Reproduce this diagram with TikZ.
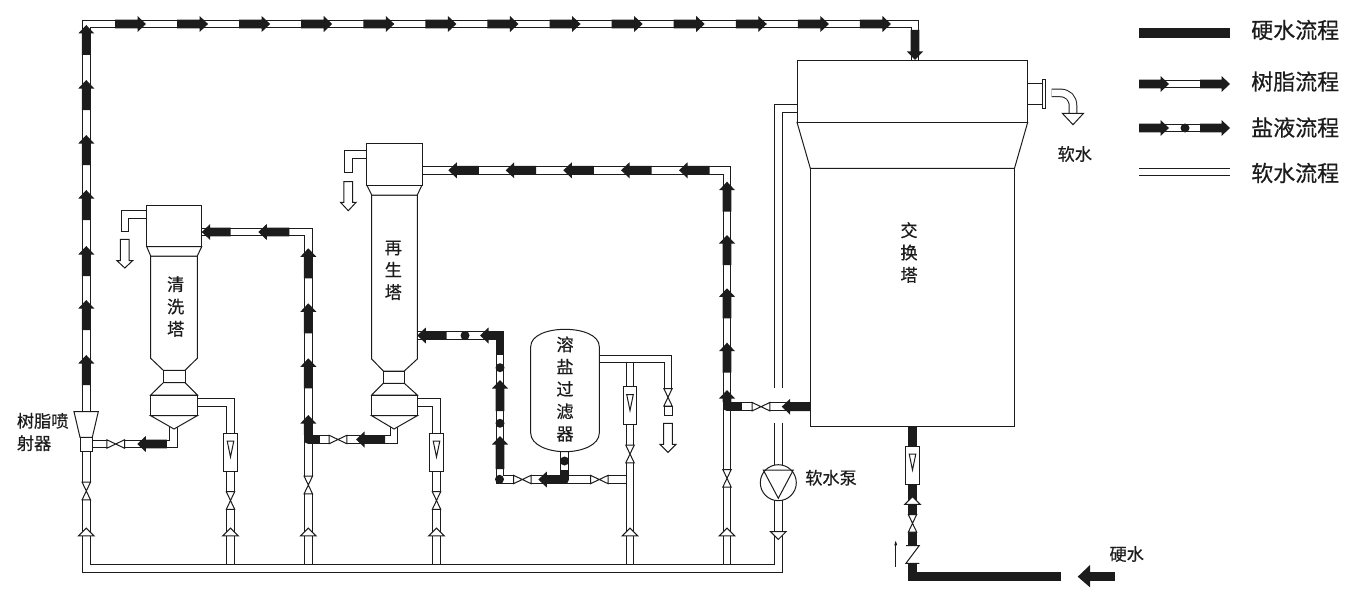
\documentclass[tikz,border=0pt]{standalone}
\usepackage{fontspec}
\usetikzlibrary{arrows.meta}
\setmainfont{Noto Sans CJK SC}[AutoFakeBold=0.5]
\definecolor{ink}{HTML}{1C1C1C}
\tikzset{
  x=1pt,y=-1pt,
  line/.style={draw=ink,line width=1pt,line join=miter},
  equip/.style={line,fill=white},
  pipe/.style={draw=ink,line width=1pt,double=white,double distance=6.6pt,line join=miter},
  hardline/.style={draw=ink,line width=8.6pt,line join=round},
  txt/.style={inner sep=0pt,font=\fontsize{17.2}{22.3}\selectfont\bfseries,text=ink,align=center},
  legendtxt/.style={inner sep=0pt,font=\fontsize{22}{24}\selectfont\bfseries,text=ink,anchor=west},
  pics/flow/.style={code={\fill[ink] (0,0)--(8.5,-8)--(8.5,-4.4)--(#1,-4.4)--(#1,4.4)--(8.5,4.4)--(8.5,8)--cycle;}},
  pics/valve/.style={code={\fill[white] (-8.8,-5) rectangle (8.8,5);
     \draw[equip] (-8.8,-4.2)--(8.8,4.2)--(8.8,-4.2)--(-8.8,4.2)--cycle;}},
  pics/hat/.style={code={\draw[equip] (-7.8,3.9)--(0,-3.9)--(7.8,3.9)--cycle;}},
  pics/rota/.style={code={\draw[equip] (-6.8,-19) rectangle (6.8,19);
     \draw[equip] (-3.3,-11)--(3.3,-11)--(0,5)--cycle;}},
  saltdot/.style={fill=ink,circle,minimum size=9pt,inner sep=0pt}
}
\newcommand{\wdown}[5]{\draw[equip] (#1-4.4,#2)--(#1+4.4,#2)--(#1+4.4,#3)--(#1+#5,#3)--(#1,#4)--(#1-#5,#3)--(#1-4.4,#3)--cycle;}
\begin{document}
\begin{tikzpicture}
\useasboundingbox (0,0) rectangle (1351,602);
% ---- connection points
\coordinate (ejTop) at (86.3,411.7);
\coordinate (ejBot) at (86.3,451);
\coordinate (ejSide) at (92.3,444);
\coordinate (tlTop) at (86.3,24);
\coordinate (trTop) at (915,24);
\coordinate (exTop) at (915,60);
\coordinate (softOut) at (797,108.3);
\coordinate (softBend) at (778.3,108.3);
\coordinate (softGapA) at (778.3,388);
\coordinate (softGapB) at (778.3,422.7);
\coordinate (softCorner) at (778.3,568.5);
\coordinate (mainLeft) at (86.3,568.5);
\coordinate (w1Out) at (197.3,402.5);
\coordinate (w1Foot) at (230.5,564.5);
\coordinate (r1Out) at (417.3,402.5);
\coordinate (r1Foot) at (436.5,564.5);
\coordinate (fOut) at (599.3,359);
\coordinate (fEnd) at (668,389);
\coordinate (fCol) at (630,359);
\coordinate (fFoot) at (630,564.5);
\coordinate (w1In) at (201.7,232);
\coordinate (wrFoot) at (308.3,564.5);
\coordinate (r1Bot) at (394,424);
\coordinate (wrJoin) at (312,439.5);
\coordinate (w1Bot) at (173.5,424);
\coordinate (r1In) at (422,170.3);
\coordinate (rrFoot) at (727,564.5);
\coordinate (exSide) at (810,406.7);
\coordinate (rrJoin) at (731,406.7);
\coordinate (r1Salt) at (417.3,335.5);
\coordinate (saltEnd) at (626,479.5);
\coordinate (saltCorner) at (500,479.5);
\coordinate (fBot) at (564.5,451.7);
\coordinate (fBotEnd) at (564.5,476);
\coordinate (exBot) at (912.5,426);
\coordinate (checkTop) at (912.5,545);
\coordinate (checkBot) at (912.5,563);
\coordinate (hardCorner) at (912.5,576.7);
\coordinate (hardEnd) at (1060.7,576.7);
\coordinate (wOutA) at (146.7,214.5);
\coordinate (wOutB) at (124.8,214.5);
\coordinate (wOutC) at (124.8,231.3);
\coordinate (rOutA) at (366.7,154.5);
\coordinate (rOutB) at (348.3,154.5);
\coordinate (rOutC) at (348.3,172);
% ---- pipes
\draw[pipe] (ejTop)--(tlTop)--(trTop)--(exTop);
\draw[pipe] (w1Out)-|(w1Foot);
\draw[pipe] (r1Out)-|(r1Foot);
\draw[pipe] (fCol)--(fFoot);
\draw[pipe] (fOut)-|(fEnd);
\draw[pipe] (r1Bot)|-(wrJoin);
\draw[pipe] (w1In)-|(wrFoot);
\draw[pipe] (w1Bot)|-(ejSide);
\draw[pipe] (exSide)--(rrJoin);
\draw[pipe] (r1In)-|(rrFoot);
\draw[pipe] (fBot)--(fBotEnd);
\draw[pipe] (r1Salt)-|(saltCorner)--(saltEnd);
\draw[pipe] (630,470)--(fFoot);
\draw[pipe] (softOut)--(softBend)--(softGapA);
\draw[pipe] (softGapB)--(softCorner)--(mainLeft)--(ejBot);
\draw[pipe] (wOutA)--(wOutB)--(wOutC);
\draw[line] (120.5,231.3)--(129.1,231.3);
\draw[pipe] (rOutA)--(rOutB)--(rOutC);
\draw[line] (344,172)--(352.6,172);
% ---- hard water lines
\draw[hardline,line cap=butt] (exBot)--(checkTop);
\draw[hardline,line cap=butt,line join=miter] (checkBot)--(hardCorner)--(hardEnd);
% ---- flow arrows: top run
\foreach \i in {0,...,12}{ \pic[rotate=180] at ({146+62.08*\i},24) {flow=31}; }
\draw[hardline,line cap=butt] (915,30.5)--(915,53);
\pic[rotate=90] at (exTop) {flow=30};
\foreach \t in {25,80,135,190,246,300,355}{ \pic[rotate=-90] at (86.3,\t) {flow=30}; }
% resin branch, wash tower
\pic at (201.7,232) {flow=29};
\pic at (258.3,232) {flow=31};
\foreach \t in {248.3,303.3,358.3}{ \pic[rotate=-90] at (308.3,\t) {flow=30}; }
\pic[rotate=-90] at (308.3,415) {flow=20};
\draw[hardline] (308.3,430)--(308.3,439.5)--(320,439.5);
\pic at (137.3,444) {flow=29.5};
\pic at (356,439.5) {flow=29};
% regeneration feed
\foreach \t in {448.3,505.7,563.3,621,679}{ \pic at (\t,170.3) {flow=30.5}; }
\foreach \t in {181.7,235,288.3,342.7}{ \pic[rotate=-90] at (727,\t) {flow=30}; }
\pic[rotate=-90] at (727,390) {flow=12};
\draw[hardline] (727,400)--(727,406.7)--(741.7,406.7);
\pic at (781.7,406.7) {flow=28.3};
% brine
\pic at (417.3,335.5) {flow=29.4};
\pic at (480,335.5) {flow=12};
\draw[hardline,line join=miter] (490,335.5)--(500,335.5)--(500,355);
\pic[rotate=-90] at (500,380) {flow=31};
\pic[rotate=-90] at (500,436) {flow=33};
\node[saltdot] (d1) at (465,335.5) {};
\node[saltdot] (d2) at (500,367.7) {};
\node[saltdot] (d3) at (500,423.3) {};
\node[saltdot] (d4) at (499.5,479.3) {};
\pic at (538.3,479.5) {flow=14};
\draw[hardline] (550,479.5)--(564.5,479.5)--(564.5,470);
\node[saltdot] (d5) at (564.5,461) {};
% ---- valves
\pic[rotate=90] at (86.3,491) {valve};
\pic[rotate=90] at (230.5,500.5) {valve};
\pic[rotate=90] at (308.3,485) {valve};
\pic[rotate=90] at (436.5,500.5) {valve};
\pic[rotate=90] at (630,454) {valve};
\pic[rotate=90] at (668,397.3) {valve};
\pic[rotate=90] at (727,478.3) {valve};
\pic[rotate=90] at (912.5,523.3) {valve};
\pic at (115.7,444) {valve};
\pic at (338,439.5) {valve};
\pic at (522.3,479.5) {valve};
\pic at (599.3,479.5) {valve};
\pic at (761,406.7) {valve};
\draw[equip] (664,406)rectangle(672.3,415.7);
% ---- hats
\foreach \x in {86.3,230.5,308.3,436.5,630,727}{ \pic at (\x,532) {hat}; }
\pic at (912.5,500.5) {hat};
\pic[rotate=180] at (778.3,535.5) {hat};
% ---- rotameters
\pic at (230.5,452) {rota};
\pic at (436.5,452) {rota};
\pic at (630,405.5) {rota};
\pic at (912.5,465) {rota};
% ---- check valve
\fill[white] (905,545) rectangle (920,563.3);
\draw[line] (906,545.5)--(919.3,545.5)--(906,563.3)--(919.3,563.3);
\draw[line,-{Latex[length=6pt,width=3pt]}] (895.7,566.7)--(895.7,539.3);
% ---- ejector
\draw[equip] (74,411.7)--(98.3,411.7)--(92.3,437.3)--(80,437.3)--cycle;
\draw[equip] (80,437.3) rectangle (92.3,451);
% ---- wash tower
\draw[equip] (150.7,256)--(197.3,256)--(197.3,358.3)--(185,370.3)--(163.3,370.3)--(150.7,358.3)--cycle;
\draw[equip] (163.3,370.3) rectangle (185,382.7);
\draw[equip] (163.3,382.7)--(185,382.7)--(197.3,395)--(150.7,395)--cycle;
\draw[equip] (150.7,395) rectangle (197.3,415.7);
\draw[equip] (150.7,415.7)--(197.3,415.7)--(174,429)--cycle;
\draw[equip] (146.7,246.7)--(201.7,246.7)--(197.3,256)--(150.7,256)--cycle;
\draw[equip] (146.7,205) rectangle (201.7,246.7);
% ---- regeneration tower
\draw[equip] (371.7,195)--(417.3,195)--(417.3,359)--(404.3,371)--(383.3,371)--(371.7,359)--cycle;
\draw[equip] (383.3,371) rectangle (404.3,383.3);
\draw[equip] (383.3,383.3)--(404.3,383.3)--(417.3,395)--(371.7,395)--cycle;
\draw[equip] (371.7,395) rectangle (417.3,415.7);
\draw[equip] (371.7,415.7)--(417.3,415.7)--(394,429)--cycle;
\draw[equip] (366.7,185)--(422,185)--(417.3,195)--(371.7,195)--cycle;
\draw[equip] (366.7,143.3) rectangle (422,185);
% ---- filter
\draw[equip] (530.7,346.7) .. controls (530.7,335) and (548,329.3) .. (565,329.3)
   .. controls (582,329.3) and (599.3,335) .. (599.3,346.7) -- (599.3,433)
   .. controls (599.3,445) and (582,451.7) .. (565,451.7)
   .. controls (548,451.7) and (530.7,445) .. (530.7,433) -- cycle;
% ---- exchange tower
\draw[equip] (810.3,168.3) rectangle (1014.5,426);
\draw[equip] (797,122.3)--(1027.7,122.3)--(1014.5,168.3)--(810.3,168.3)--cycle;
\draw[equip] (797,60.3) rectangle (1027.7,122.3);
\draw[equip] (1027.7,83.3) rectangle (1042.8,104.3);
\draw[equip] (1042.8,79.3) rectangle (1045.4,108.3);
\draw[pipe] (1051.5,92.9)--(1060,92.9) .. controls (1068,92.9) and (1073,98) .. (1073,106)--(1073,113.3);
\draw[equip] (1062.3,113.3)--(1083.5,113.3)--(1073,124.7)--cycle;
% ---- pump
\draw[equip] (778.3,482.7) circle (18);
\draw[line] (763.3,470)--(793.3,470)--(778.3,498.3)--cycle;
% ---- white outflow arrows
\wdown{124.8}{239.3}{260.7}{268}{7.8}
\wdown{348.3}{181.7}{202.3}{210.7}{7.8}
\wdown{668}{423.3}{444.3}{452.3}{8}
% ---- feed arrow
\draw[hardline,line cap=butt] (1088,576.7)--(1115,576.7);
\fill[ink] (1077.7,576.7)--(1090,565)--(1090,587.3)--cycle;
% ---- labels
\node[txt] (lw) at (175.7,306.5) {清\\洗\\塔};
\node[txt] (lr) at (393.3,270.3) {再\\生\\塔};
\node[txt] (lx) at (909,252.5) {交\\换\\塔};
\node[txt] (lf) at (565,389) {溶\\盐\\过\\滤\\器};
\node[txt,anchor=west,align=left] (lj) at (16.7,432) {树脂喷\\射器};
\node[txt,anchor=west] (lp) at (805,477.7) {软水泵};
\node[txt] (ls) at (1074.8,154) {软水};
\node[txt] (lh) at (1126.7,554) {硬水};
% ---- legend
\coordinate (k1a) at (1139,33); \coordinate (k1b) at (1230,33);
\draw[ink,line width=10pt] (k1a)--(k1b);
\coordinate (k2a) at (1145,84); \coordinate (k2b) at (1225,84);
\draw[pipe] (k2a)--(k2b);
\pic[rotate=180] at (1169,84) {flow=30};
\pic[rotate=180] at (1230,84) {flow=30};
\coordinate (k3a) at (1145,128); \coordinate (k3b) at (1225,128);
\draw[pipe] (k3a)--(k3b);
\pic[rotate=180] at (1169,128) {flow=30};
\pic[rotate=180] at (1230,128) {flow=30};
\node[saltdot] (k3d) at (1185,128) {};
\coordinate (k4a) at (1139,171.8); \coordinate (k4b) at (1230,171.8);
\draw[pipe] (k4a)--(k4b);
\node[legendtxt] (t1) at (1251,30) {硬水流程};
\node[legendtxt] (t2) at (1251,81.5) {树脂流程};
\node[legendtxt] (t3) at (1251,127.5) {盐液流程};
\node[legendtxt] (t4) at (1251,173) {软水流程};
\end{tikzpicture}
\end{document}
